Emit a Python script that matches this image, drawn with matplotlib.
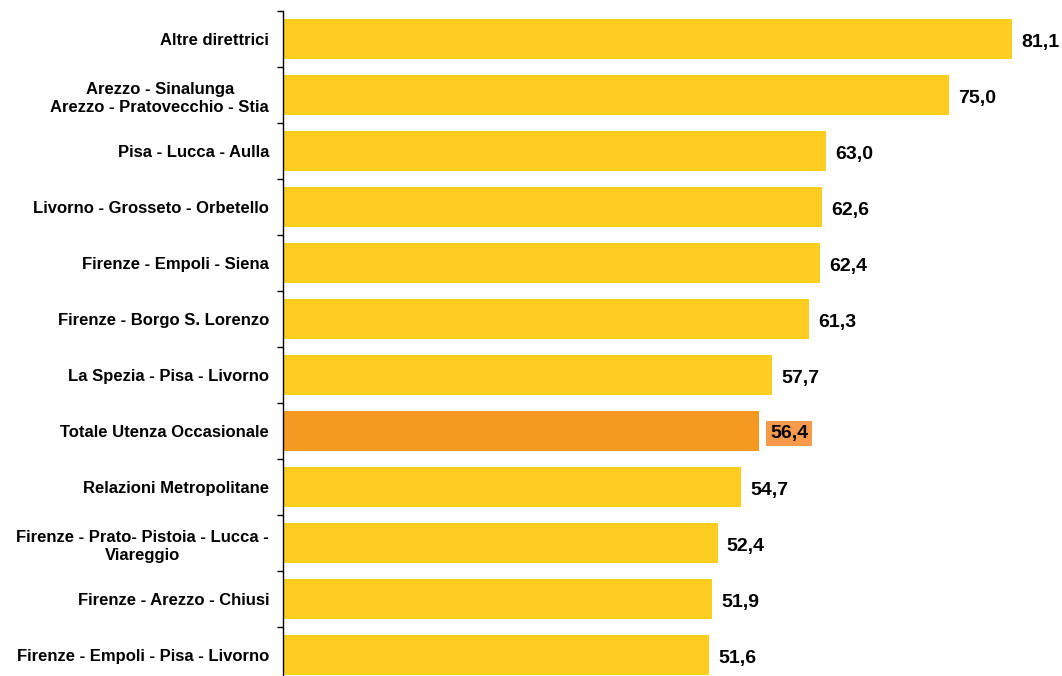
import matplotlib
matplotlib.use("Agg")
import matplotlib.pyplot as plt

categories = [
    "Altre direttrici",
    "Arezzo - Sinalunga\nArezzo - Pratovecchio - Stia",
    "Pisa - Lucca - Aulla",
    "Livorno - Grosseto - Orbetello",
    "Firenze - Empoli - Siena",
    "Firenze - Borgo S. Lorenzo",
    "La Spezia - Pisa - Livorno",
    "Totale Utenza Occasionale",
    "Relazioni Metropolitane",
    "Firenze - Prato- Pistoia - Lucca -\nViareggio",
    "Firenze - Arezzo - Chiusi",
    "Firenze - Empoli - Pisa - Livorno",
]
values = [81.1, 75.0, 63.0, 62.6, 62.4, 61.3, 57.7, 56.4, 54.7, 52.4, 51.9, 51.6]
highlight = "Totale Utenza Occasionale"

plt.rcParams['font.family'] = ['Liberation Sans', 'DejaVu Sans']

fig = plt.figure(figsize=(10.62, 6.76), dpi=100)
ax = fig.add_axes([0.2665, -0.0104, 0.7335, 0.9941])

yellow = "#FDCE1F"
orange = "#F49A22"
colors = [orange if c == highlight else yellow for c in categories]
ypos = list(range(len(categories)))
ax.barh(ypos, values, left=0, height=0.71, color=colors)
ax.set_xlim(10, 86)
ax.set_ylim(len(categories) - 0.5, -0.5)

ax.set_yticks([i - 0.5 for i in range(len(categories) + 1)])
ax.set_yticklabels([])
ax.set_yticks(ypos, minor=True)
ax.set_yticklabels(categories, minor=True, fontsize=12, fontweight='bold',
                   linespacing=1.25)
ax.tick_params(axis='y', which='minor', length=0, pad=10)
ax.tick_params(axis='y', which='major', length=4, width=1, direction='out')
for lab in ax.get_yticklabels(minor=True):
    lab.set_multialignment('center')
    lab.set_horizontalalignment('right')
ax.set_xticks([])
for s in ['top', 'right', 'bottom']:
    ax.spines[s].set_visible(False)
ax.spines['left'].set_linewidth(1)

for i, (c, v) in enumerate(zip(categories, values)):
    txt = f"{v:.1f}".replace(".", ",")
    if c == highlight:
        ax.text(v + 1.1, i + 0.04, txt, va='center', ha='left', fontsize=14,
                fontweight='bold', color='black',
                bbox=dict(boxstyle='square,pad=0.2', fc='#F79A4C', ec='none'))
    else:
        ax.text(v + 0.9, i + 0.07, txt, va='center', ha='left', fontsize=14,
                fontweight='bold', color='black')

fig.savefig("out.png", dpi=100)
